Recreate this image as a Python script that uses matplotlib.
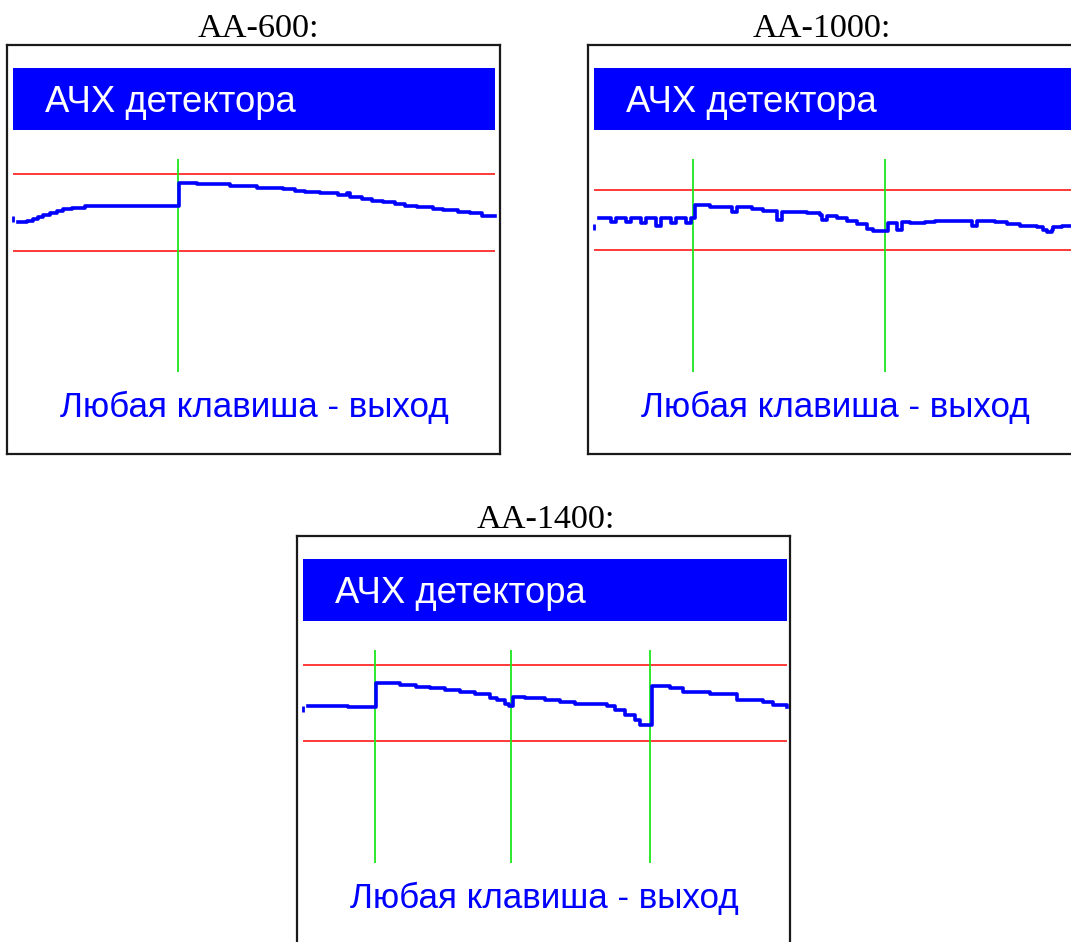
"""Three analyser screenshots: detector frequency response of AA-600 / AA-1000 / AA-1400."""

import matplotlib

matplotlib.use("Agg")
import matplotlib.pyplot as plt
from matplotlib.patches import Rectangle

W, H = 1071, 942
DPI = 100

BLUE = "#0000ff"
RED = "#ff2a2a"
GREEN = "#1ee61e"
FRAME = "#1a1a1a"

HEADER = "АЧХ детектора"
FOOTER = "Любая клавиша - выход"
LIMIT_DB = 3.0

# AA-600: frequency (MHz) and level (dB), stepped trace
AA600_NAME = "AA-600:"
AA600_FMAX = 600
AA600_MHZ = [6.2, 17.4, 24.9, 31.1, 37.3, 46.1, 54.8, 62.2, 73.4, 89.6, 206.6,
             229, 270, 304, 336, 351, 363.5, 382, 404.6, 415.8, 419.5, 434.5,
             447, 460.6, 475.5, 488, 503, 523, 535, 554, 569, 584, 600]
AA600_DB = [-0.76, -0.66, -0.53, -0.33, -0.19, -0.02, 0.14, 0.27, 0.37, 0.51, 2.27,
            2.20, 2.06, 1.93, 1.81, 1.70, 1.60, 1.50, 1.36, 1.50, 1.23, 1.03,
            0.92, 0.79, 0.66, 0.53, 0.41, 0.30, 0.17, 0.04, -0.06, -0.25, -0.30]
AA600_START_DB = -0.47
AA600_MARKERS = [205.4]

# AA-1000
AA1000_NAME = "AA-1000:"
AA1000_FMAX = 1000
AA1000_MHZ = [10.4, 35.3, 45.6, 66.4, 76.8, 97.5, 107.9, 128.6, 139, 159.8, 170.1,
              190.9, 201.2, 209.5, 240.7, 285.7, 296, 327.2, 351.2, 379, 389.4,
              441.3, 468.9, 473, 483.4, 503.5, 524.3, 545, 565.8, 579.5, 610.6,
              628, 638.4, 655.6, 686.7, 707.5, 783.6, 794, 832, 856.2, 883.8,
              918.5, 932.2, 939.2, 949.6, 952.9, 970.3, 1000]
AA1000_DB = [0.23, -0.17, 0.23, -0.17, 0.23, -0.27, 0.23, -0.6, 0.23, -0.27, 0.23,
             -0.27, 0.23, 1.5, 1.33, 0.77, 1.27, 1.1, 0.93, 0.0, 0.83,
             0.67, 0.5, 0.0, 0.43, 0.17, -0.07, -0.4, -0.93, -1.1, -0.27,
             -1.0, -0.17, -0.33, -0.17, -0.07, -0.6, -0.07, -0.17, -0.4, -0.57,
             -0.73, -1.0, -1.2, -1.0, -0.73, -0.6, -0.6]
AA1000_START_DB = -0.67
AA1000_MARKERS = [205.4, 603.7]

# AA-1400
AA1400_NAME = "AA-1400:"
AA1400_FMAX = 1400
AA1400_MHZ = [14.5, 130.2, 211.2, 280.6, 326.9, 367.4, 410.8, 454.2, 497.5, 540.9,
              561.2, 584.3, 595.9, 607.5, 642.2, 700, 743.4, 786.8, 879.4, 902.5,
              931.4, 960.4, 974.8, 1009.5, 1061.6, 1099.2, 1177.3, 1255.4, 1330.6,
              1359.5, 1400]
AA1400_DB = [-0.20, -0.32, 1.54, 1.42, 1.30, 1.18, 1.03, 0.87, 0.71, 0.39,
             0.24, -0.08, -0.24, 0.47, 0.39, 0.24, 0.08, -0.08, -0.24, -0.55,
             -0.95, -1.34, -1.74, 1.34, 1.18, 0.87, 0.71, 0.24, 0.08,
             -0.16, -0.30]
AA1400_START_DB = -0.47
AA1400_MARKERS = [208.3, 601.7, 1003.8]

# screen geometry in figure pixels
BOX_W, BOX_H = 493, 409
LAYOUT = {
    "AA-600": dict(box=(7, 45), plot_x=(13, 495), rows=(174, 251), title=(258, 37)),
    "AA-1000": dict(box=(588, 45), plot_x=(594, 1076), rows=(190, 250), title=(822, 37)),
    "AA-1400": dict(box=(297, 536), plot_x=(303, 787), rows=(665, 741), title=(546, 528)),
}


def draw_panel(fig, lay, name, fmax, mhz, db, start_db, markers):
    bl, bt = lay["box"]
    ax = fig.add_axes([bl / W, 1 - (bt + BOX_H) / H, BOX_W / W, BOX_H / H])
    pl, pr = lay["plot_x"]
    up, lo = lay["rows"]
    sx = (pr - pl) / fmax
    sy = (lo - up) / (2 * LIMIT_DB)
    mid = (up + lo) / 2
    ax.set_xlim((bl - pl) / sx, (bl + BOX_W - pl) / sx)
    ax.set_ylim((mid - (bt + BOX_H)) / sy, (mid - bt) / sy)
    ax.set_xticks([])
    ax.set_yticks([])
    for sp in ax.spines.values():
        sp.set_color(FRAME)
        sp.set_linewidth(1.6)

    # blue header strip
    ax.add_patch(Rectangle((6 / BOX_W, 1 - 85 / BOX_H), (pr - pl) / BOX_W, 62 / BOX_H,
                           transform=ax.transAxes, color=BLUE, lw=0, zorder=1))
    ax.text(38 / BOX_W, 1 - 67 / BOX_H, HEADER, transform=ax.transAxes,
            color="white", fontsize=26.3, family="Liberation Sans",
            ha="left", va="baseline", zorder=2)
    ax.text(247 / BOX_W, 1 - 372 / BOX_H, FOOTER, transform=ax.transAxes,
            color=BLUE, fontsize=25.2, family="Liberation Sans",
            ha="center", va="baseline", zorder=2)

    ax.hlines([LIMIT_DB, -LIMIT_DB], 0, fmax, color=RED, lw=1.3, zorder=2)
    ax.vlines(markers, (mid - (bt + 327)) / sy, (mid - (bt + 114)) / sy,
              color=GREEN, lw=1.3, zorder=3)
    ax.plot(mhz, db, drawstyle="steps-post", color=BLUE, lw=2.6, zorder=4)
    ax.plot([0], [start_db], marker="|", ms=4, mew=2, color=BLUE, zorder=4)

    tx, ty = lay["title"]
    fig.text(tx / W, 1 - ty / H, name, ha="center", va="baseline",
             fontsize=24.7, family="Liberation Serif", color="black")


def main():
    fig = plt.figure(figsize=(W / DPI, H / DPI), dpi=DPI)
    fig.patch.set_facecolor("white")
    draw_panel(fig, LAYOUT["AA-600"], AA600_NAME, AA600_FMAX, AA600_MHZ, AA600_DB,
               AA600_START_DB, AA600_MARKERS)
    draw_panel(fig, LAYOUT["AA-1000"], AA1000_NAME, AA1000_FMAX, AA1000_MHZ, AA1000_DB,
               AA1000_START_DB, AA1000_MARKERS)
    draw_panel(fig, LAYOUT["AA-1400"], AA1400_NAME, AA1400_FMAX, AA1400_MHZ, AA1400_DB,
               AA1400_START_DB, AA1400_MARKERS)
    fig.savefig("out.png", dpi=DPI)


if __name__ == "__main__":
    main()
